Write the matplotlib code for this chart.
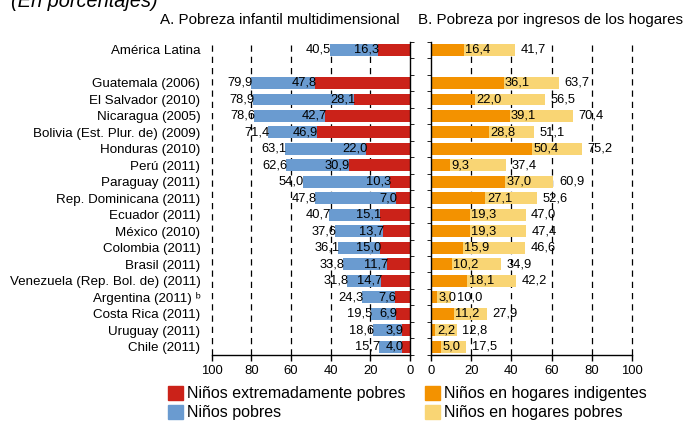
import matplotlib.pyplot as plt
from matplotlib.patches import Patch

plt.rcParams['font.family'] = ['Liberation Sans', 'DejaVu Sans']

# Data
paises = ['América Latina', '',
          'Guatemala (2006)', 'El Salvador (2010)', 'Nicaragua (2005)',
          'Bolivia (Est. Plur. de) (2009)', 'Honduras (2010)', 'Perú (2011)',
          'Paraguay (2011)', 'Rep. Dominicana (2011)', 'Ecuador (2011)',
          'México (2010)', 'Colombia (2011)', 'Brasil (2011)',
          'Venezuela (Rep. Bol. de) (2011)', 'Argentina (2011) ᵇ',
          'Costa Rica (2011)', 'Uruguay (2011)', 'Chile (2011)']
extremos = [16.3, None, 47.8, 28.1, 42.7, 46.9, 22.0, 30.9, 10.3, 7.0, 15.1,
            13.7, 15.0, 11.7, 14.7, 7.6, 6.9, 3.9, 4.0]
pobres_total = [40.5, None, 79.9, 78.9, 78.6, 71.4, 63.1, 62.6, 54.0, 47.8, 40.7,
                37.6, 36.1, 33.8, 31.8, 24.3, 19.5, 18.6, 15.7]
indigentes = [16.4, None, 36.1, 22.0, 39.1, 28.8, 50.4, 9.3, 37.0, 27.1, 19.3,
              19.3, 15.9, 10.2, 18.1, 3.0, 11.2, 2.2, 5.0]
hogares_total = [41.7, None, 63.7, 56.5, 70.4, 51.1, 75.2, 37.4, 60.9, 52.6, 47.0,
                 47.4, 46.6, 34.9, 42.2, 10.0, 27.9, 12.8, 17.5]
ticks = [0, 20, 40, 60, 80, 100]

rojo = '#CB2219'
azul = '#6A9BD0'
naranja = '#F39200'
amarillo = '#F9D574'


def fmt(v):
    return ('%.1f' % v).replace('.', ',')


fig = plt.figure(figsize=(6.87, 4.23), dpi=100)
axA = fig.add_axes([0.308, 0.1608, 0.2887, 0.741])
axB = fig.add_axes([0.6274, 0.1608, 0.2926, 0.741])

fs = 9.3
for i in range(len(paises)):
    if extremos[i] is None:
        continue
    axA.barh(i, pobres_total[i], height=0.7, color=azul)
    axA.barh(i, extremos[i], height=0.7, color=rojo)
    axA.annotate(fmt(extremos[i]), (extremos[i], i), xytext=(1, 0),
                 textcoords='offset points', ha='right', va='center', fontsize=fs)
    axA.annotate(fmt(pobres_total[i]), (pobres_total[i], i), xytext=(1, 0),
                 textcoords='offset points', ha='right', va='center', fontsize=fs)

    axB.barh(i, hogares_total[i], height=0.7, color=amarillo)
    axB.barh(i, indigentes[i], height=0.7, color=naranja)
    axB.annotate(fmt(indigentes[i]), (indigentes[i], i), xytext=(1, 0),
                 textcoords='offset points', ha='left', va='center', fontsize=fs)
    axB.annotate(fmt(hogares_total[i]), (hogares_total[i], i), xytext=(4, 0),
                 textcoords='offset points', ha='left', va='center', fontsize=fs)

n = len(paises)
for ax in (axA, axB):
    ax.set_ylim(n - 0.5, -0.5)
    ax.set_xticks(ticks)
    ax.set_xticklabels([str(t) for t in ticks], fontsize=9.4)
    for t in ticks[1:]:
        ax.axvline(t, color='black', lw=0.9, ls=(0, (5, 4)), zorder=0, clip_on=False)
    ax.spines['top'].set_visible(False)
    ax.set_yticks([i + 0.5 for i in range(-1, n)], minor=True)
    ax.tick_params(axis='x', length=4, width=1, direction='out')
    ax.spines['bottom'].set_linewidth(1)

axA.set_xlim(100, 0)
axA.spines['left'].set_visible(False)
axA.spines['right'].set_linewidth(1)
axA.set_yticks(range(n))
axA.set_yticklabels(paises, fontsize=9.6)
axA.tick_params(axis='y', which='major', length=0, pad=8)
axA.tick_params(axis='y', which='minor', left=False, right=True, length=3,
                direction='out')

axB.set_xlim(0, 100)
axB.spines['right'].set_visible(False)
axB.spines['left'].set_linewidth(1)
axB.set_yticks([])
axB.set_yticks([i + 0.5 for i in range(-1, n)], minor=True)
axB.tick_params(axis='y', which='minor', length=3, direction='out')

fig.text(11 / 687, 1 - 7 / 423, '(En porcentajes)', fontsize=14.4, style='italic',
         va='baseline', ha='left')
fig.text(280 / 687, 1 - 20 / 423, 'A. Pobreza infantil multidimensional',
         fontsize=10.9, ha='center', va='center')
fig.text(551 / 687, 1 - 20 / 423, 'B. Pobreza por ingresos de los hogares',
         fontsize=10.9, ha='center', va='center')

handles = [Patch(color=rojo), Patch(color=azul), Patch(color=naranja), Patch(color=amarillo)]
etiquetas = ['Niños extremadamente pobres', 'Niños pobres',
             'Niños en hogares indigentes', 'Niños en hogares pobres']
fig.legend(handles, etiquetas, ncol=2, loc='upper left',
           bbox_to_anchor=(168 / 687, 1 - 386 / 423), frameon=False,
           fontsize=11.5, handlelength=0.94, handleheight=0.94,
           handletextpad=0.25, labelspacing=0.22, columnspacing=1.25,
           borderaxespad=0, borderpad=0)

fig.savefig('out.png', dpi=100)
